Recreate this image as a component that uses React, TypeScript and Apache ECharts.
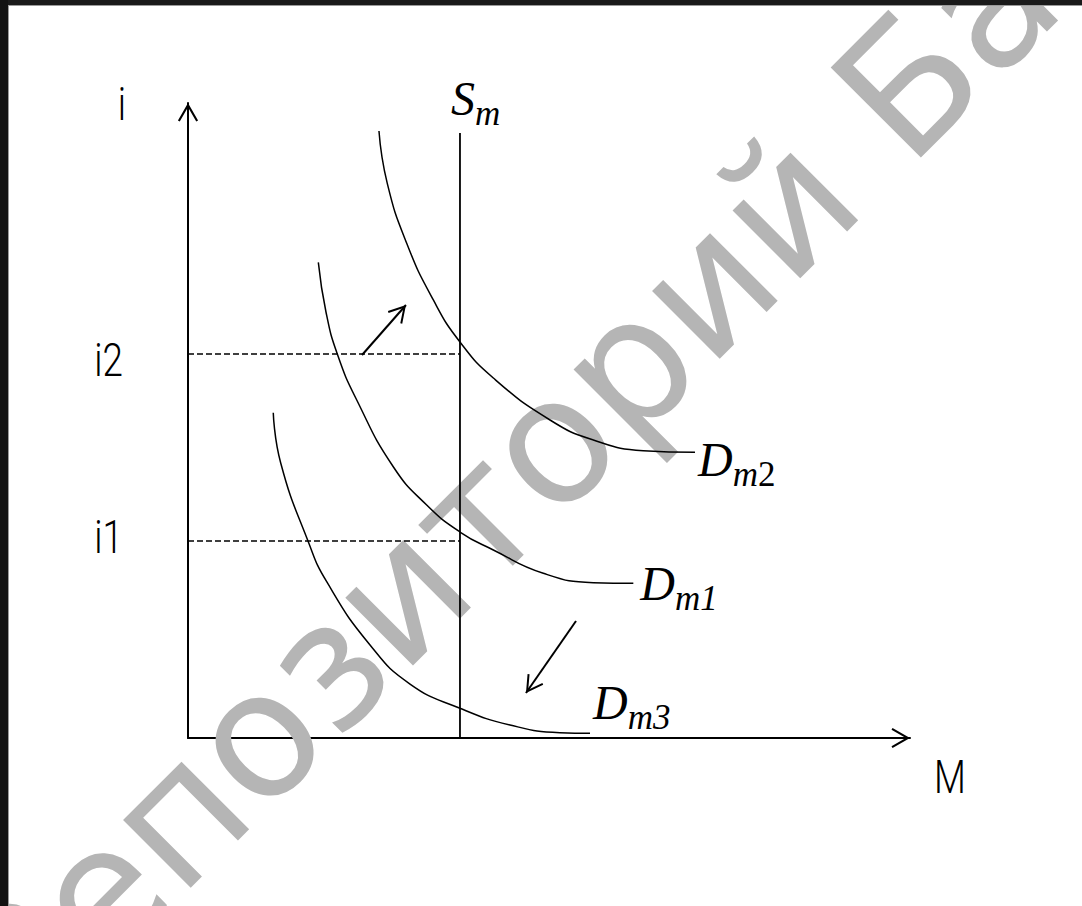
import React, { useEffect, useRef } from 'react';
import * as echarts from 'echarts';

// ---- axis extents (abstract units) ----
const AXIS_MAX_M = 100;
const AXIS_MAX_I = 100;

// ---- money demand curves (M, i) ----
const demandDm2 = [
  [26.45, 95.59], [27.6, 87.35], [30.29, 77.91], [33.98, 68.98], [37.67, 62.36],
  [42.29, 56.69], [50.14, 50.08], [56.14, 46.93], [63.06, 45.24], [70.22, 44.99],
];
const demandDm1 = [
  [18.05, 74.91], [19.11, 67.09], [20.68, 60.47], [23.37, 53.23], [28.43, 42.72],
  [33.06, 36.69], [37.67, 32.44], [42.29, 29.61], [49.21, 25.94], [56.14, 24.46], [61.68, 24.36],
];
const demandDm3 = [
  [11.81, 51.23], [12.84, 43.31], [16.66, 30.91], [19.21, 24.61], [25.21, 14.65],
  [30.75, 8.5], [37.67, 4.68], [44.6, 2.05], [51.52, 0.83], [55.68, 0.74],
];

// ---- money supply (vertical) ----
const moneySupply = 37.67;
const supplyTop = 95.28;

// ---- interest rate levels ----
const rateValues = [31.02, 60.47];
const rateNames = ['i1', 'i2'];

// ---- shift arrows ----
const shiftUp = [[24.1, 60.31], [30.19, 68.19]];
const shiftDown = [[53.74, 18.43], [46.81, 7.09]];

// ---- texts ----
const axisNameI = 'i';
const axisNameM = 'M';
const supplyMain = 'S';
const supplySub = 'm';
const demandMain = 'D';
const demandSubs = [['m', '2'], ['m', '1'], ['m', '3']];
const watermarkText = 'Репозиторий БарГУ';

// chevron (open arrow head) with its tip at the centre of a square bounding box
const CHEVRON =
  'path://M0,0 L8.66,15 L7.1,15.9 L0,3.6 L-7.1,15.9 L-8.66,15 Z M0,-15.9 L0,-15.9 Z M-15.9,0 L-15.9,0 Z M15.9,0 L15.9,0 Z';

const SERIF = '"Liberation Serif", "Times New Roman", serif';
const SANS = 'Roboto, "Liberation Sans", sans-serif';

// label offsets (pixels) relative to the anchoring data point
const demandLabelStyle = [
  { at: [3, 22], digitItalic: false },
  { at: [7, 15], digitItalic: true },
  { at: [3, -16], digitItalic: true },
];
const rateLabelOffsetY = [-4, 6];

function curveSeries(name: string, data: number[][]) {
  return {
    name,
    type: 'line',
    data,
    smooth: 0.5,
    symbol: 'none',
    silent: true,
    z: 3,
    lineStyle: { color: '#000', width: 1.5 },
  };
}

export default function App() {
  const ref = useRef<HTMLDivElement>(null);

  useEffect(() => {
    if (!ref.current) return;
    const chart = echarts.init(ref.current, null, { renderer: 'svg' });

    const axisCommon = {
      type: 'value',
      axisTick: { show: false },
      axisLabel: { show: false },
      splitLine: { show: false },
      axisLine: {
        show: true,
        onZero: true,
        symbol: ['none', CHEVRON],
        symbolSize: [37, 37],
        lineStyle: { color: '#000', width: 2 },
      },
    };

    const option: any = {
      animation: false,
      backgroundColor: '#ffffff',
      grid: { left: 188, top: 103, width: 722, height: 635, containLabel: false, outerBoundsMode: 'none' },
      xAxis: { ...axisCommon, min: 0, max: AXIS_MAX_M },
      yAxis: { ...axisCommon, min: 0, max: AXIS_MAX_I },
      series: [
        curveSeries('Dm2', demandDm2),
        curveSeries('Dm1', demandDm1),
        curveSeries('Dm3', demandDm3),
        {
          name: 'Sm',
          type: 'line',
          data: [[moneySupply, 0], [moneySupply, supplyTop]],
          symbol: 'none',
          silent: true,
          z: 3,
          lineStyle: { color: '#000', width: 1.8 },
        },
        ...rateValues.map((r, k) => ({
          name: rateNames[k],
          type: 'line',
          data: [[0, r], [moneySupply, r]],
          symbol: 'none',
          silent: true,
          z: 3,
          lineStyle: { color: '#000', width: 1.4, type: [6, 3] },
        })),
        {
          name: 'shifts',
          type: 'line',
          data: [],
          silent: true,
          z: 3,
          markLine: {
            silent: true,
            symbol: ['none', CHEVRON],
            symbolSize: 35,
            label: { show: false },
            emphasis: { disabled: true },
            lineStyle: { color: '#000', width: 2, type: 'solid' },
            data: [
              [{ coord: shiftUp[0] }, { coord: shiftUp[1] }],
              [{ coord: shiftDown[0] }, { coord: shiftDown[1] }],
            ],
          },
        },
      ],
    };
    chart.setOption(option);

    const px = (p: number[]) => chart.convertToPixel({ gridIndex: 0 }, p) as number[];

    const txt = (x: number, y: number, text: string, extra: any, elExtra: any = {}) => ({
      type: 'text',
      x,
      y,
      z: 20,
      silent: true,
      ...elExtra,
      style: {
        text,
        fill: '#000',
        textAlign: 'left',
        align: 'left',
        textVerticalAlign: 'middle',
        verticalAlign: 'middle',
        ...extra,
      },
    });

    // serif label with a lowered subscript in one rich text
    const subLabel = (x: number, y: number, main: string, subA: string, subB: string, digitItalic: boolean) =>
      txt(x, y, `{M|${main}}{A|${subA}}{B|${subB}}`, {
        rich: {
          M: { fontSize: 48, fontFamily: SERIF, fontStyle: 'italic', lineHeight: 48, verticalAlign: 'top', fill: '#000' },
          A: { fontSize: 35, fontFamily: SERIF, fontStyle: 'italic', lineHeight: 78, verticalAlign: 'middle', fill: '#000' },
          B: {
            fontSize: 35,
            fontFamily: SERIF,
            fontStyle: digitItalic ? 'italic' : 'normal',
            lineHeight: 78,
            verticalAlign: 'middle',
            fill: '#000',
          },
        },
      });

    const graphics: any[] = [];

    // watermark
    graphics.push({
      type: 'text',
      x: 621,
      y: 372,
      rotation: Math.PI / 4,
      z: 1,
      silent: true,
      style: {
        text: watermarkText,
        fill: '#b5b5b5',
        fontSize: 175,
        fontFamily: '"DejaVu Sans", Verdana, sans-serif',
        textAlign: 'center',
        align: 'center',
        textVerticalAlign: 'middle',
        verticalAlign: 'middle',
      },
    });

    const sansStyle = { fontSize: 46, fontFamily: SANS, fontWeight: 300 };

    // axis names
    const yEnd = px([0, AXIS_MAX_I]);
    graphics.push(txt(yEnd[0] - 62, yEnd[1] + 1, axisNameI, { ...sansStyle, textAlign: 'right', align: 'right' }, { scaleX: 0.8 }));
    const xEnd = px([AXIS_MAX_M, 0]);
    graphics.push(txt(xEnd[0] + 40, xEnd[1] + 39, axisNameM, { ...sansStyle, textAlign: 'center', align: 'center' }, { scaleX: 0.8 }));

    // rate labels
    rateValues.forEach((r, k) => {
      const p = px([0, r]);
      graphics.push(
        txt(p[0] - 65, p[1] + rateLabelOffsetY[k], rateNames[k], { ...sansStyle, textAlign: 'right', align: 'right' }, { scaleX: 0.8 })
      );
    });

    // S_m
    const sTop = px([moneySupply, supplyTop]);
    graphics.push(subLabel(sTop[0] - 9, sTop[1] - 19.5, supplyMain, supplySub, '', true));

    // D labels
    [demandDm2, demandDm1, demandDm3].forEach((curve, k) => {
      const end = px(curve[curve.length - 1]);
      const st = demandLabelStyle[k];
      const [a, b] = demandSubs[k];
      graphics.push(subLabel(end[0] + st.at[0], end[1] + st.at[1], demandMain, a, b, st.digitItalic));
    });

    // frame
    graphics.push({ type: 'rect', z: 50, silent: true, shape: { x: 0, y: 0, width: 1082, height: 5 }, style: { fill: '#1a1a1a' } });
    graphics.push({ type: 'rect', z: 50, silent: true, shape: { x: 8, y: 5, width: 1074, height: 1 }, style: { fill: '#9a9a9a' } });
    graphics.push({ type: 'rect', z: 50, silent: true, shape: { x: 0, y: 0, width: 8, height: 906 }, style: { fill: '#121212' } });
    graphics.push({ type: 'rect', z: 50, silent: true, shape: { x: 8, y: 5, width: 1, height: 901 }, style: { fill: '#9a9a9a' } });

    chart.setOption({ graphic: graphics });

    return () => chart.dispose();
  }, []);

  return (
    <div
      ref={ref}
      style={{ position: 'fixed', left: 0, top: 0, width: 1082, height: 906, background: '#fff' }}
    />
  );
}
